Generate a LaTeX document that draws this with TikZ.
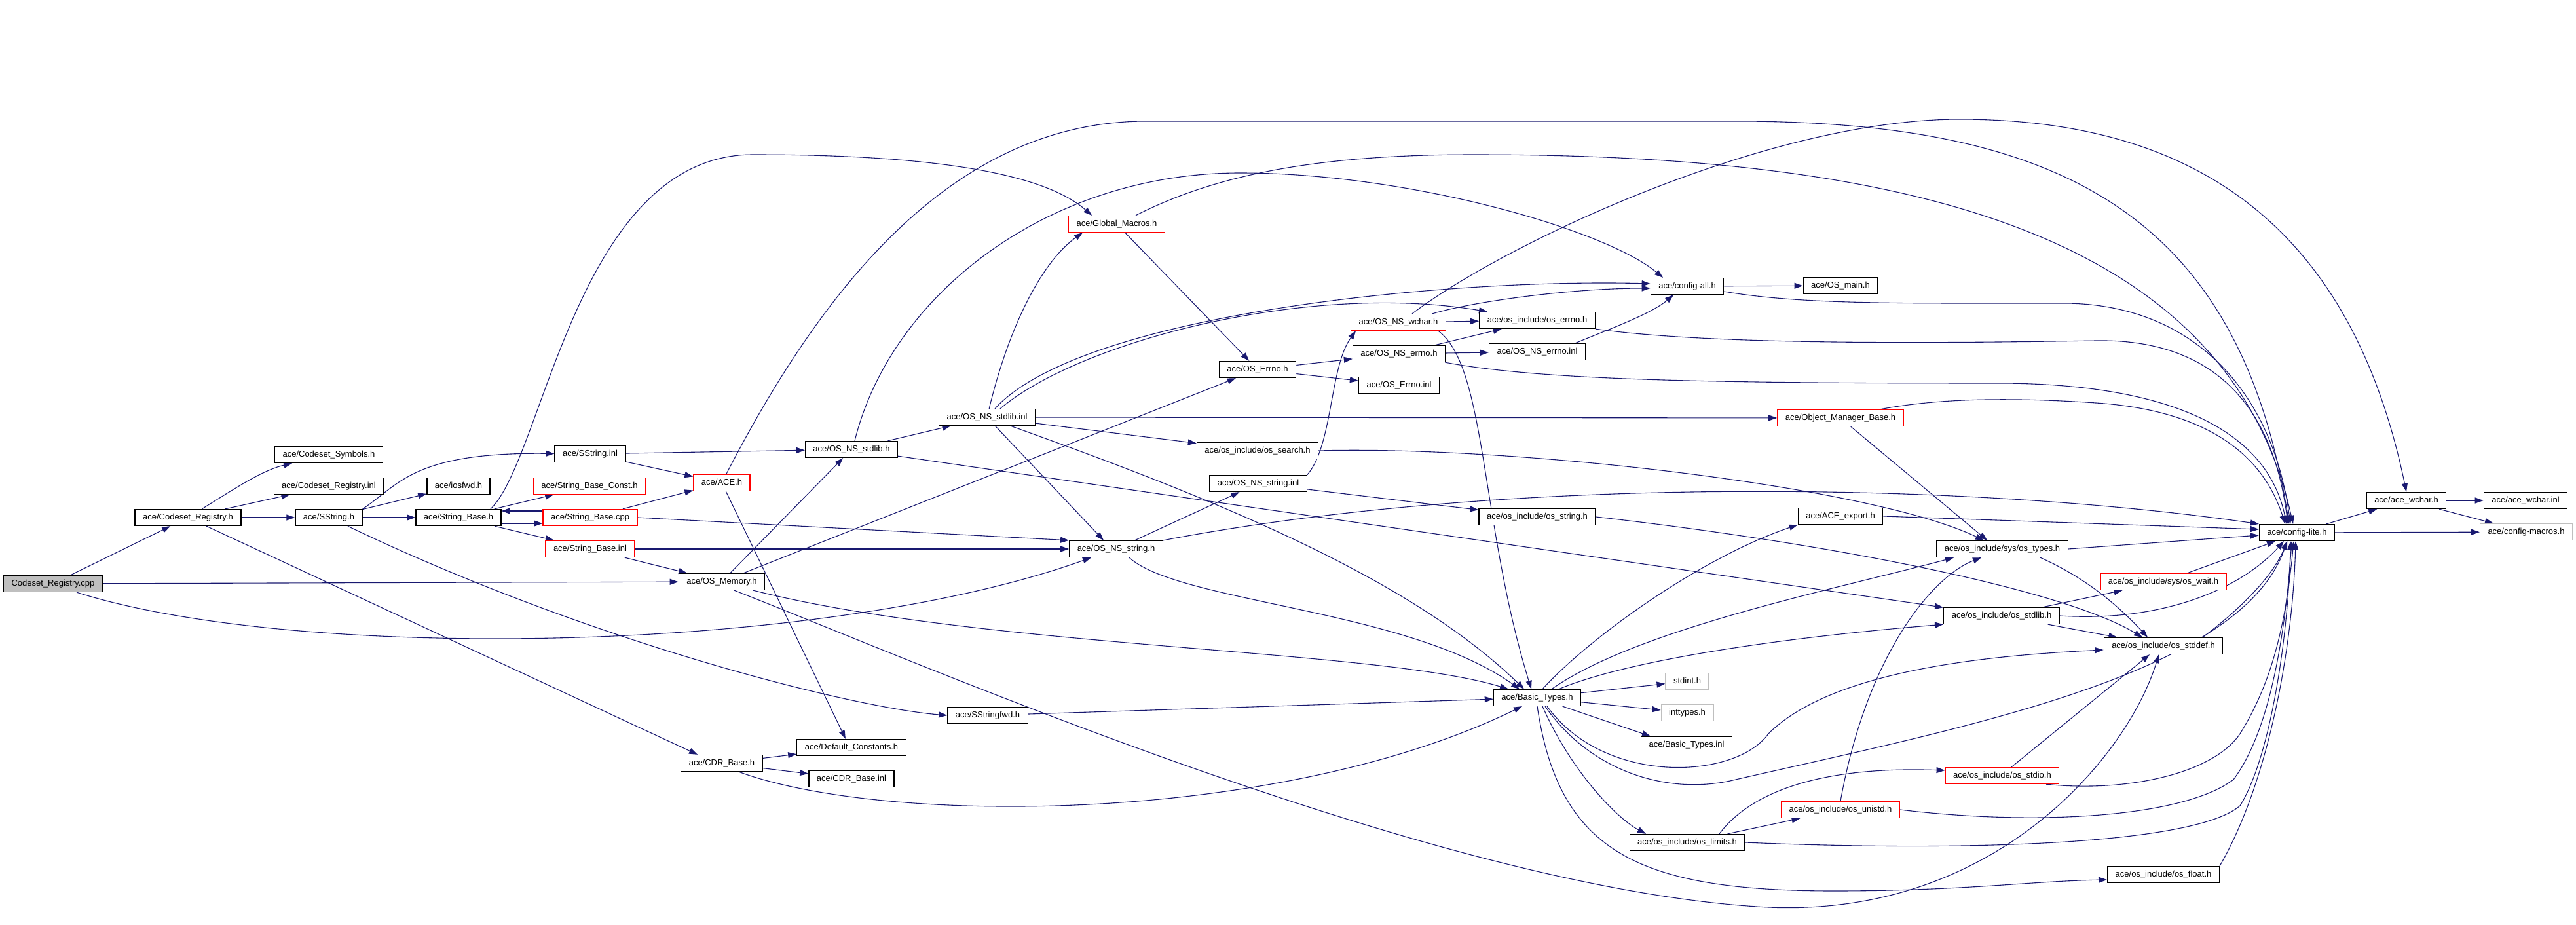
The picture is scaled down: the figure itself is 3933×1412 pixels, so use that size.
\documentclass[tikz,border=0pt]{standalone}
\usepackage{fontspec}
\setmainfont{Liberation Sans}
\usetikzlibrary{arrows.meta,backgrounds}
\definecolor{edgeblue}{RGB}{25,25,112}

\begin{document}
\begin{tikzpicture}[x=1pt, y=-1pt,
    file/.style={draw=black, line width=1.3pt, fill=white, font=\fontsize{13}{15}\selectfont,
      inner xsep=12pt, inner ysep=0pt, minimum height=25pt, text height=9.5pt, text depth=2.7pt},
    redfile/.style={file, draw=red},
    grayfile/.style={file, draw=black!25},
    rootfile/.style={file, fill=black!25},
    inc/.style={draw=edgeblue, line width=1.1pt, -{Stealth[length=13pt,width=9pt,inset=0pt]}}]
  \useasboundingbox (0,0) rectangle (3933,1412);
  % files
  \node[rootfile] (cpp) at (81,891) {Codeset\_Registry.cpp};
  \node[file] (crh) at (287,790) {ace/Codeset\_Registry.h};
  \node[file] (csym) at (502,694) {ace/Codeset\_Symbols.h};
  \node[file] (cinl) at (502,742) {ace/Codeset\_Registry.inl};
  \node[file] (sstr) at (502,790) {ace/SString.h};
  \node[file] (iosfwd) at (700,742) {ace/iosfwd.h};
  \node[file] (sbh) at (700,790) {ace/String\_Base.h};
  \node[file] (sinl) at (901,693) {ace/SString.inl};
  \node[redfile] (sbconst) at (900,742) {ace/String\_Base\_Const.h};
  \node[redfile] (sbcpp) at (901,790) {ace/String\_Base.cpp};
  \node[redfile] (sbinl) at (901,838) {ace/String\_Base.inl};
  \node[redfile] (aceh) at (1102,737) {ace/ACE.h};
  \node[file] (osmem) at (1102,888) {ace/OS\_Memory.h};
  \node[file] (cdr) at (1102,1165) {ace/CDR\_Base.h};
  \node[file] (nsstdlibh) at (1300,686) {ace/OS\_NS\_stdlib.h};
  \node[file] (defconst) at (1300,1141) {ace/Default\_Constants.h};
  \node[file] (cdrinl) at (1300,1189) {ace/CDR\_Base.inl};
  \node[file] (nsstdlibinl) at (1507,637) {ace/OS\_NS\_stdlib.inl};
  \node[file] (sfwd) at (1508,1092) {ace/SStringfwd.h};
  \node[redfile] (gmacros) at (1705,342) {ace/Global\_Macros.h};
  \node[file] (nsstring) at (1704,838) {ace/OS\_NS\_string.h};
  \node[file] (oserrno) at (1920,564) {ace/OS\_Errno.h};
  \node[file] (search) at (1920,688) {ace/os\_include/os\_search.h};
  \node[file] (nsstringinl) at (1921,738) {ace/OS\_NS\_string.inl};
  \node[redfile] (nswchar) at (2135,492) {ace/OS\_NS\_wchar.h};
  \node[file] (nserrno) at (2136,540) {ace/OS\_NS\_errno.h};
  \node[file] (errnoinl) at (2136,588) {ace/OS\_Errno.inl};
  \node[file] (incerrno) at (2347,489) {ace/os\_include/os\_errno.h};
  \node[file] (nserrnoinl) at (2347,537) {ace/OS\_NS\_errno.inl};
  \node[file] (incstring) at (2347,789) {ace/os\_include/os\_string.h};
  \node[file] (basic) at (2347,1065) {ace/Basic\_Types.h};
  \node[file] (cfgall) at (2576,437) {ace/config-all.h};
  \node[grayfile] (stdint) at (2576,1040) {stdint.h};
  \node[grayfile] (inttypes) at (2576,1088) {inttypes.h};
  \node[file] (basicinl) at (2575,1137) {ace/Basic\_Types.inl};
  \node[file] (limits) at (2576,1286) {ace/os\_include/os\_limits.h};
  \node[file] (osmain) at (2810,436) {ace/OS\_main.h};
  \node[redfile] (omb) at (2810,638) {ace/Object\_Manager\_Base.h};
  \node[file] (export) at (2810,788) {ace/ACE\_export.h};
  \node[redfile] (unistd) at (2810,1236) {ace/os\_include/os\_unistd.h};
  \node[file] (types) at (3057,838) {ace/os\_include/sys/os\_types.h};
  \node[file] (incstdlib) at (3056,940) {ace/os\_include/os\_stdlib.h};
  \node[redfile] (stdio) at (3057,1184) {ace/os\_include/os\_stdio.h};
  \node[redfile] (wait) at (3303,888) {ace/os\_include/sys/os\_wait.h};
  \node[file] (stddef) at (3303,986) {ace/os\_include/os\_stddef.h};
  \node[file] (float) at (3303,1335) {ace/os\_include/os\_float.h};
  \node[file] (lite) at (3507,813) {ace/config-lite.h};
  \node[file] (acewchar) at (3674,764) {ace/ace\_wchar.h};
  \node[file] (acewcharinl) at (3856,764) {ace/ace\_wchar.inl};
  \node[grayfile] (macros) at (3857,812) {ace/config-macros.h};
  % includes
  \begin{scope}[on background layer]
    \fill[white] (0,0) rectangle (3933,1412);
    \draw[inc] (cpp) -- (crh);
    \draw[inc] (cpp) -- (osmem);
    \draw[inc] ([xshift=36pt]cpp.south) .. controls (450,1010) and (1250,1000) .. ([xshift=-38pt]nsstring.south);
    \draw[inc] (crh) .. controls (360,745) and (400,718) .. (csym);
    \draw[inc] ([xshift=57pt]crh.north) -- (cinl);
    \draw[inc] (crh) -- (sstr);
    \draw[inc] (crh) -- ([xshift=-37pt]cdr.north);
    \draw[inc] (sstr.north east) .. controls (610,740) and (630,690) .. (sinl);
    \draw[inc] (sstr) -- (iosfwd);
    \draw[inc] (sstr) -- (sbh);
    \draw[inc] ([xshift=29pt]sstr.south) .. controls (900,980) and (1300,1080) .. (sfwd.west);
    \draw[inc] (sbh) -- (sbconst);
    \draw[inc] ([yshift=-9pt]sbh.east) -- ([yshift=-9pt]sbcpp.west);
    \draw[inc] ([yshift=10pt]sbcpp.west) -- ([yshift=10pt]sbh.east);
    \draw[inc] (sbh) -- (sbinl);
    \draw[inc] ([xshift=49pt]sbh.north) .. controls (830,700) and (880,236) .. (1150,236)
      .. controls (1450,236) and (1600,270) .. ([xshift=-38pt]gmacros.north);
    \draw[inc] (sbcpp) -- (aceh);
    \draw[inc] (sbcpp.east) -- (nsstring.north west);
    \draw[inc] (sbinl) -- (nsstring);
    \draw[inc] (sbinl) -- (osmem);
    \draw[inc] (sinl) -- (nsstdlibh);
    \draw[inc] (sinl) -- (aceh);
    \draw[inc] (aceh) -- ([xshift=-9pt]defconst.north);
    \draw[inc] (aceh) .. controls (1250,450) and (1450,185) .. (1750,185) -- (2650,185)
      .. controls (3150,185) and (3420,330) .. ([xshift=-12pt]lite.north);
    \draw[inc] (gmacros) -- (oserrno);
    \draw[inc] ([xshift=29pt]gmacros.north) .. controls (1850,270) and (2000,236) .. (2250,236)
      .. controls (2900,236) and (3400,350) .. ([xshift=-6pt]lite.north);
    \draw[inc] (nsstdlibh) -- (nsstdlibinl);
    \draw[inc] ([xshift=5pt]nsstdlibh.north) .. controls (1360,450) and (1600,264) .. (1893,264)
      .. controls (2150,264) and (2450,350) .. ([xshift=-37pt]cfgall.north);
    \draw[inc] (nsstdlibh) -- (incstdlib);
    \draw[inc] (nsstdlibinl) .. controls (1540,500) and (1590,400) .. ([xshift=-52pt]gmacros.south);
    \draw[inc] ([xshift=12pt]nsstdlibinl.north) .. controls (1650,480) and (2200,425) .. ([yshift=4pt]cfgall.west);
    \draw[inc] ([xshift=20pt]nsstdlibinl.north) .. controls (1650,520) and (2000,430) .. ([xshift=-76pt]incerrno.north);
    \draw[inc] (nsstdlibinl) -- (omb);
    \draw[inc] (nsstdlibinl) -- (search);
    \draw[inc] (nsstdlibinl) -- ([xshift=-19pt]nsstring.north);
    \draw[inc] ([xshift=36pt]nsstdlibinl.south) .. controls (1850,760) and (2150,880) .. ([xshift=-20pt]basic.north);
    \draw[inc] (nsstring) -- (nsstringinl);
    \draw[inc] (nsstring.north east) .. controls (2300,725) and (3000,735) .. (lite.north west);
    \draw[inc] ([xshift=20pt]nsstring.south) .. controls (1800,920) and (2150,930) .. ([xshift=-27pt]basic.north);
    \draw[inc] (oserrno) -- (nserrno);
    \draw[inc] (oserrno) -- (errnoinl);
    \draw[inc] (nsstringinl.north east) .. controls (2035,680) and (2030,560) .. ([xshift=-65pt]nswchar.south);
    \draw[inc] (nsstringinl) -- (incstring);
    \draw[inc] (nswchar) -- (incerrno);
    \draw[inc] ([xshift=52pt]nswchar.north) .. controls (2250,460) and (2400,440) .. ([yshift=-3pt]cfgall.west);
    \draw[inc] ([xshift=61pt]nswchar.south) .. controls (2270,560) and (2260,800) .. ([xshift=-9pt]basic.north);
    \draw[inc] ([xshift=21pt]nswchar.north) .. controls (2300,370) and (2700,183) .. (2990,182)
      .. controls (3300,182) and (3580,300) .. (acewchar.north);
    \draw[inc] (nserrno) -- (incerrno);
    \draw[inc] (nserrno) -- (nserrnoinl);
    \draw[inc] (nserrno) .. controls (2350,580) and (2600,585) .. (3050,585)
      .. controls (3300,585) and (3460,650) .. ([xshift=-16pt]lite.north);
    \draw[inc] ([xshift=58pt]nserrnoinl.north) .. controls (2450,505) and (2520,480) .. ([xshift=-21pt]cfgall.south);
    \draw[inc] (incerrno.south east) .. controls (2600,525) and (2900,525) .. (3200,520)
      .. controls (3380,517) and (3470,620) .. ([xshift=-14pt]lite.north);
    \draw[inc] (cfgall) -- (osmain);
    \draw[inc] ([yshift=-8pt]cfgall.east) .. controls (2750,465) and (2900,463) .. (3150,463)
      .. controls (3350,463) and (3470,600) .. ([xshift=-10pt]lite.north);
    \draw[inc] (search.east) .. controls (2300,680) and (2850,740) .. ([xshift=-28pt]types.north);
    \draw[inc] (incstring.east) .. controls (2800,830) and (3150,900) .. ([xshift=-32pt]stddef.north);
    \draw[inc] (basic) -- (stdint);
    \draw[inc] (basic) -- (inttypes);
    \draw[inc] (basic) -- ([xshift=-55pt]basicinl.north);
    \draw[inc] ([xshift=8pt]basic.north) .. controls (2430,970) and (2600,850) .. (export.south west);
    \draw[inc] ([xshift=22pt]basic.north) .. controls (2500,960) and (2800,900) .. ([xshift=-74pt]types.south);
    \draw[inc] ([xshift=33pt]basic.north) .. controls (2480,1010) and (2700,975) .. (incstdlib.south west);
    \draw[inc] ([xshift=15pt]basic.south) .. controls (2450,1200) and (2650,1190) .. (2700,1120)
      .. controls (2800,1020) and (3050,1000) .. ([yshift=-6pt]stddef.west);
    \draw[inc] ([xshift=12pt]basic.south) .. controls (2430,1180) and (2550,1215) .. (2650,1190)
      .. controls (3000,1110) and (3420,1030) .. ([xshift=-15pt]lite.south);
    \draw[inc] ([xshift=8pt]basic.south) .. controls (2400,1180) and (2470,1250) .. ([xshift=-63pt]limits.north);
    \draw[inc] (basic.south) .. controls (2380,1300) and (2500,1360) .. (2800,1360)
      .. controls (3000,1360) and (3100,1345) .. ([yshift=-8pt]float.west);
    \draw[inc] (limits) -- (unistd);
    \draw[inc] ([xshift=49pt]limits.north) .. controls (2680,1200) and (2800,1170) .. ([yshift=8pt]stdio.west);
    \draw[inc] (limits.east) .. controls (3000,1300) and (3350,1290) .. (3420,1230)
      .. controls (3470,1150) and (3495,950) .. ([xshift=-10pt]lite.south);
    \draw[inc] (unistd.north) .. controls (2850,1000) and (2950,880) .. ([xshift=-32pt]types.south);
    \draw[inc] (unistd.east) .. controls (3100,1260) and (3330,1250) .. (3410,1190)
      .. controls (3470,1110) and (3490,950) .. ([xshift=-8pt]lite.south);
    \draw[inc] ([xshift=14pt]stdio.north) -- ([xshift=-21pt]stddef.south);
    \draw[inc] ([xshift=67pt]stdio.south) .. controls (3250,1210) and (3380,1180) .. (3420,1120)
      .. controls (3470,1040) and (3490,950) .. ([xshift=-5pt]lite.south);
    \draw[inc] (incstdlib) -- (wait);
    \draw[inc] (incstdlib) -- (stddef);
    \draw[inc] (incstdlib.east) .. controls (3300,950) and (3420,900) .. ([xshift=-20pt]lite.south);
    \draw[inc] ([xshift=58pt]types.south) .. controls (3180,880) and (3230,920) .. ([xshift=-24pt]stddef.north);
    \draw[inc] (types.east) -- ([yshift=-4pt]lite.west);
    \draw[inc] (omb) -- ([xshift=-23pt]types.north);
    \draw[inc] ([xshift=60pt]omb.north) .. controls (2950,610) and (3050,605) .. (3200,615)
      .. controls (3350,625) and (3450,680) .. ([xshift=-18pt]lite.north);
    \draw[inc] (export.east) -- ([yshift=5pt]lite.west);
    \draw[inc] (wait) -- ([xshift=-33pt]lite.south);
    \draw[inc] ([xshift=60pt]stddef.north) .. controls (3420,930) and (3470,880) .. ([xshift=-15pt]lite.south);
    \draw[inc] (float.north east) .. controls (3460,1200) and (3500,1000) .. ([xshift=-2pt]lite.south);
    \draw[inc] (lite) -- (acewchar);
    \draw[inc] (lite) -- (macros);
    \draw[inc] (acewchar) -- (acewcharinl);
    \draw[inc] (acewchar) -- (macros);
    \draw[inc] (osmem) -- (nsstdlibh);
    \draw[inc] (osmem) -- (oserrno);
    \draw[inc] ([xshift=48pt]osmem.south) .. controls (1500,990) and (2100,990) .. ([xshift=-44pt]basic.north);
    \draw[inc] ([xshift=19pt]osmem.south) .. controls (1400,1010) and (2200,1360) .. (2700,1385)
      .. controls (3050,1400) and (3250,1150) .. ([xshift=-7pt]stddef.south);
    \draw[inc] (sfwd) -- (basic);
    \draw[inc] (cdr) -- (defconst);
    \draw[inc] (cdr) -- (cdrinl);
    \draw[inc] ([xshift=26pt]cdr.south) .. controls (1350,1260) and (1950,1260) .. ([xshift=-23pt]basic.south);
  \end{scope}
\end{tikzpicture}
\end{document}
